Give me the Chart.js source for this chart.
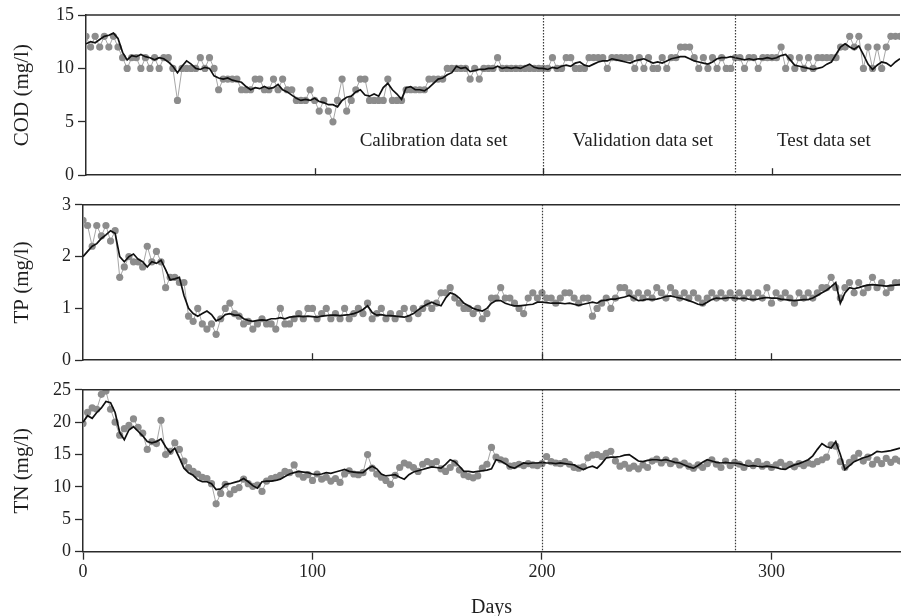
<!DOCTYPE html>
<html lang="en">
<head>
    <meta charset="UTF-8">
    <title>COD, TP and TN - measured and simulated</title>
    <script src="https://cdn.jsdelivr.net/npm/chart.js"></script>
    <style>
        html, body { margin: 0; padding: 0; background: #fff; }
        body { width: 904px; height: 616px; position: relative; overflow: hidden; }
        canvas { position: absolute; left: 0; display: block; }
        #cod-chart { top: 0; }
        #tp-chart { top: 190px; }
        #tn-chart { top: 375px; }
    </style>
</head>
<body>
    <canvas id="cod-chart" width="904" height="190"></canvas>
    <canvas id="tp-chart" width="904" height="185"></canvas>
    <canvas id="tn-chart" width="904" height="241"></canvas>

    <script>
        // sampling every 2 days, day 0 .. 356
        const STEP = 2;

        const codObs = [
            13, 12, 13, 12, 13, 12, 13, 12, 11, 10,
            11, 11, 10, 11, 10, 11, 10, 11, 11, 10,
            7, 10, 10, 10, 10, 11, 10, 11, 10, 8,
            9, 9, 9, 9, 8, 8, 8, 9, 9, 8,
            8, 9, 8, 9, 8, 8, 7, 7, 7, 8,
            7, 6, 7, 6, 5, 7, 9, 6, 7, 8,
            9, 9, 7, 7, 7, 7, 9, 7, 7, 7,
            8, 8, 8, 8, 8, 9, 9, 9, 9, 10,
            10, 10, 10, 10, 9, 10, 9, 10, 10, 10,
            11, 10, 10, 10, 10, 10, 10, 10, 10, 10,
            10, 10, 11, 10, 10, 11, 11, 10, 10, 10,
            11, 11, 11, 11, 10, 11, 11, 11, 11, 11,
            10, 11, 10, 11, 10, 10, 11, 10, 11, 11,
            12, 12, 12, 11, 10, 11, 10, 11, 10, 11,
            10, 10, 11, 11, 10, 11, 11, 10, 11, 11,
            11, 11, 12, 10, 11, 10, 11, 10, 11, 10,
            11, 11, 11, 11, 11, 12, 12, 13, 12, 13,
            10, 12, 10, 12, 10, 12, 13, 13, 13
        ];
        const codSim = [
            12.3, 12.5, 12.4, 12.7, 13.0, 13.1, 13.3, 12.8, 11.5, 10.8,
            11.2, 11.1, 11.3, 11.1, 11.0, 10.8, 11.0, 10.9, 10.6, 10.2,
            9.6, 10.2, 10.7, 10.4, 10.0, 9.9, 10.1, 10.0, 9.3, 9.1,
            9.0, 9.1, 8.9, 8.8, 8.7, 8.3, 8.0, 8.2, 8.1, 8.3,
            8.1, 8.2, 8.5, 8.0, 7.8, 7.5, 7.2, 7.0, 7.1, 7.0,
            7.2, 6.9, 6.8, 6.6, 6.6, 6.4, 7.0, 7.3, 7.4, 7.8,
            8.0, 7.5, 7.4, 7.6, 7.4, 8.2, 8.6, 8.0, 7.6, 7.1,
            8.2, 8.3, 8.0, 8.0, 7.9, 8.2, 8.6, 9.0, 9.1, 9.4,
            9.6, 10.2, 10.0, 10.1, 9.7, 9.8, 9.9, 9.9, 10.0, 10.0,
            10.2, 10.0, 10.1, 10.0, 10.1, 10.0, 10.2, 10.4, 10.1, 10.0,
            10.0, 9.9, 10.1, 10.0, 10.2, 10.3, 10.2, 10.5, 10.6, 10.3,
            10.2, 10.4, 10.6, 10.7, 10.7, 10.9, 10.8, 10.7, 10.6, 10.5,
            10.7, 10.8, 10.9, 10.7, 10.5, 10.6, 10.5, 10.7, 10.9, 11.0,
            11.1, 11.1, 10.9, 10.7, 10.6, 10.5, 10.4, 10.6, 10.9, 11.0,
            11.0, 11.1, 11.0, 10.9, 10.8, 10.9, 10.8, 10.9, 10.9, 11.0,
            10.9, 11.0, 11.2, 11.3, 10.8, 10.3, 10.2, 10.1, 10.0, 9.9,
            10.0, 10.1, 10.4, 10.6, 11.3, 12.0, 12.3, 12.0, 11.8, 12.1,
            11.3, 10.4, 9.9, 10.3, 10.6, 10.5, 10.2, 10.6, 10.9
        ];

        const tpObs = [
            2.7, 2.6, 2.2, 2.6, 2.4, 2.6, 2.3, 2.5, 1.6, 1.8,
            2.0, 1.9, 1.9, 1.8, 2.2, 1.9, 2.1, 1.9, 1.4, 1.6,
            1.6, 1.5, 1.5, 0.85, 0.75, 1.0, 0.7, 0.6, 0.7, 0.5,
            0.8, 1.0, 1.1, 0.9, 0.85, 0.7, 0.75, 0.6, 0.7, 0.8,
            0.7, 0.7, 0.6, 1.0, 0.7, 0.7, 0.8, 0.9, 0.8, 1.0,
            1.0, 0.8, 0.9, 1.0, 0.8, 0.9, 0.8, 1.0, 0.8, 0.9,
            1.0, 0.9, 1.1, 0.8, 0.9, 1.0, 0.8, 0.9, 0.8, 0.9,
            1.0, 0.8, 1.0, 0.9, 1.0, 1.1, 1.0, 1.1, 1.3, 1.3,
            1.4, 1.2, 1.1, 1.0, 1.0, 0.9, 1.0, 0.8, 0.9, 1.2,
            1.2, 1.4, 1.2, 1.2, 1.1, 1.0, 0.9, 1.2, 1.3, 1.2,
            1.3, 1.2, 1.2, 1.1, 1.2, 1.3, 1.3, 1.2, 1.1, 1.2,
            1.2, 0.85, 1.0, 1.1, 1.2, 1.0, 1.2, 1.4, 1.4, 1.3,
            1.2, 1.3, 1.2, 1.3, 1.2, 1.4, 1.3, 1.2, 1.4, 1.3,
            1.2, 1.3, 1.2, 1.3, 1.2, 1.1, 1.2, 1.3, 1.2, 1.3,
            1.2, 1.3, 1.2, 1.3, 1.2, 1.3, 1.2, 1.3, 1.2, 1.4,
            1.1, 1.3, 1.2, 1.3, 1.2, 1.1, 1.3, 1.2, 1.3, 1.2,
            1.3, 1.4, 1.4, 1.6, 1.4, 1.2, 1.4, 1.5, 1.3, 1.5,
            1.3, 1.4, 1.6, 1.4, 1.5, 1.3, 1.4, 1.5, 1.5
        ];
        const tpSim = [
            2.0, 2.1, 2.2, 2.25, 2.35, 2.42, 2.5, 2.45, 2.0, 1.9,
            2.0, 2.05, 1.95, 1.9, 1.8, 1.9, 1.87, 1.93, 1.75, 1.55,
            1.57, 1.6, 1.25, 1.0, 0.9, 0.85, 0.9, 0.95, 0.88, 0.76,
            0.8, 0.88, 0.9, 0.87, 0.87, 0.8, 0.77, 0.75, 0.77, 0.78,
            0.77, 0.8, 0.8, 0.82, 0.8, 0.83, 0.84, 0.85, 0.84, 0.85,
            0.84, 0.83, 0.85, 0.86, 0.87, 0.87, 0.86, 0.87, 0.88, 0.9,
            0.93, 0.98, 1.05, 0.92, 0.87, 0.88, 0.86, 0.86, 0.85, 0.84,
            0.83, 0.86, 0.9, 0.97, 1.03, 1.08, 1.12, 1.08, 1.05, 1.2,
            1.3, 1.27, 1.2, 1.1, 1.05, 1.0, 0.97, 0.95, 1.0, 1.1,
            1.15, 1.15, 1.1, 1.07, 1.05, 1.05, 1.06, 1.07, 1.08, 1.12,
            1.12, 1.11, 1.1, 1.1, 1.1, 1.09, 1.1, 1.08, 1.06, 1.08,
            1.1, 1.12, 1.1, 1.15, 1.16, 1.18, 1.18, 1.2, 1.22, 1.25,
            1.2, 1.15, 1.16, 1.18, 1.17, 1.18, 1.2, 1.23, 1.24, 1.22,
            1.2, 1.18, 1.15, 1.12, 1.08, 1.07, 1.12, 1.17, 1.2, 1.19,
            1.2, 1.21, 1.2, 1.19, 1.2, 1.18, 1.17, 1.18, 1.2, 1.21,
            1.2, 1.2, 1.18, 1.17, 1.16, 1.15, 1.16, 1.17, 1.17, 1.2,
            1.25, 1.3, 1.35, 1.42, 1.5, 1.1, 1.3, 1.4, 1.38, 1.4,
            1.43, 1.45, 1.46, 1.45, 1.44, 1.43, 1.44, 1.45, 1.46
        ];

        const tnObs = [
            19.8, 21.5, 22.2, 22.0, 24.3, 24.8, 22.0, 20.0, 18.0, 19.0,
            19.5, 20.5, 19.2, 18.3, 15.8, 17.0, 16.7, 20.3, 15.0, 15.5,
            16.8, 15.8, 14.0, 13.0, 12.4, 12.0, 11.5, 11.3, 10.5, 7.4,
            9.0, 10.4, 8.9, 9.6, 9.9, 11.2, 10.5, 10.1, 10.3, 9.3,
            10.9, 11.3, 11.5, 11.8, 12.4, 12.2, 13.4, 12.0, 11.5, 11.9,
            11.0, 12.0, 11.2, 11.5, 10.9, 11.3, 10.7, 12.0, 12.5, 12.0,
            11.9, 12.2, 15.0, 12.9, 12.0, 11.5, 11.0, 10.4, 11.8, 13.0,
            13.7, 13.4, 13.0, 12.4, 13.5, 13.9, 13.6, 13.9, 12.8, 12.4,
            13.0, 13.7, 12.6, 11.9, 11.6, 11.4, 11.7, 12.9, 13.5, 16.1,
            14.6, 14.2, 14.0, 13.2, 13.3, 13.5, 13.3, 13.6, 13.4, 13.3,
            13.6, 14.7, 13.9, 13.7, 13.6, 13.9, 13.5, 13.0, 12.9, 13.1,
            14.5, 14.9, 15.0, 14.7, 15.2, 15.5, 14.0, 13.2, 13.5, 12.9,
            13.2, 12.8, 13.4, 13.0, 14.0, 14.3, 13.7, 14.2, 13.6, 14.0,
            13.4, 13.7, 13.2, 12.9, 13.4, 13.0, 13.6, 14.2, 13.5, 13.0,
            14.0, 13.3, 13.8, 13.5, 13.0, 13.7, 13.3, 13.9, 13.2, 13.5,
            13.0, 13.4, 13.8, 13.2, 13.5, 13.1, 13.6, 13.3, 13.7, 13.5,
            13.9, 14.2, 14.6, 16.5, 16.3, 13.9, 13.0, 13.8, 14.5, 15.2,
            14.0, 14.6, 13.5, 14.2, 13.6, 14.4, 13.8, 14.3, 14.0
        ];
        const tnSim = [
            20.0, 21.0, 20.6, 21.5, 22.2, 23.2, 23.0, 21.5, 18.4, 17.3,
            18.8, 19.3, 18.6, 17.9, 17.0, 16.8, 17.0, 17.4, 16.2, 15.3,
            16.0, 14.5, 12.9, 12.2, 11.8, 11.1, 10.8, 10.8, 10.5, 9.6,
            9.7, 10.4, 10.5, 10.7, 10.9, 11.3, 10.8, 10.2, 9.8, 10.8,
            10.9, 10.9, 11.0, 11.2, 11.6, 12.0, 12.2, 12.4, 12.3, 12.2,
            12.0, 11.9, 12.0, 12.2, 12.1, 12.3, 12.5, 12.7, 12.4, 12.3,
            12.2, 12.2, 12.8, 13.2, 12.8, 12.0, 11.7, 11.8, 11.9, 11.5,
            11.2, 11.9, 12.3, 12.5, 12.7, 12.9, 13.1, 13.0, 12.9, 13.5,
            14.2, 13.9, 13.2, 12.4, 12.4, 12.3, 12.4, 12.5, 12.6, 12.8,
            14.2, 14.0, 13.6, 13.1, 12.9, 13.3, 13.7, 13.6, 13.7, 13.7,
            13.8, 13.7, 13.7, 13.6, 13.7, 13.6, 13.5, 13.4, 13.0, 12.7,
            13.0, 13.2, 12.9, 13.6, 14.5, 14.6, 14.6, 14.7, 14.9, 15.0,
            14.5, 14.0, 13.9, 14.1, 14.2, 14.2, 14.1, 14.2, 14.0, 13.8,
            13.7, 13.4, 13.1, 12.9, 13.3, 13.8, 14.2, 14.0, 13.8, 13.7,
            13.8, 13.7, 13.7, 13.6, 13.4, 13.2, 13.3, 13.2, 13.1, 13.2,
            13.1, 13.0, 12.8, 12.7, 13.1, 13.4, 13.6, 13.9, 14.2, 14.8,
            15.8, 16.7, 16.2, 16.0, 17.0, 15.0, 12.7, 13.3, 13.9, 14.2,
            14.5, 14.7, 15.0, 15.5, 15.4, 15.5, 15.6, 15.8, 16.0
        ];

        // ends of calibration / validation periods
        const splitDays = [200, 284];
        const periodLabels = [
            { text: 'Calibration data set', day: 152 },
            { text: 'Validation data set', day: 243.5 },
            { text: 'Test data set', day: 322.7 }
        ];
        const dayTicks = [100, 200, 300];

        const FONT = '"Liberation Serif", "Times New Roman", serif';
        const AXIS = '#2b2b2b';
        const OBS_GRAY = '#8c8c8c';

        const days = codObs.map((_, i) => i * STEP);
        const toPoints = vals => vals.map((v, i) => ({ x: days[i], y: v }));

        const panelDecor = {
            id: 'panelDecor',
            afterDatasetsDraw(chart, args, opts) {
                const { ctx, chartArea: a, scales: { x, y } } = chart;
                ctx.save();
                ctx.strokeStyle = AXIS;
                ctx.lineWidth = 1.5;
                ctx.beginPath();
                ctx.moveTo(a.left, a.top);
                ctx.lineTo(a.right, a.top);
                ctx.stroke();

                // period boundaries
                ctx.lineWidth = 1.2;
                ctx.strokeStyle = '#3a3a3a';
                ctx.setLineDash([1.5, 1.5]);
                splitDays.forEach(d => {
                    const px = Math.round(x.getPixelForValue(d)) + 0.5;
                    ctx.beginPath();
                    ctx.moveTo(px, a.top);
                    ctx.lineTo(px, a.bottom);
                    ctx.stroke();
                });
                ctx.setLineDash([]);

                // small ticks pointing into the plot
                if (opts.innerTicks) {
                    ctx.lineWidth = 1.3;
                    ctx.strokeStyle = AXIS;
                    dayTicks.forEach(d => {
                        const px = Math.round(x.getPixelForValue(d)) + 0.5;
                        ctx.beginPath();
                        ctx.moveTo(px, a.bottom);
                        ctx.lineTo(px, a.bottom - 7);
                        ctx.stroke();
                    });
                }

                if (opts.labelLevel !== undefined) {
                    ctx.fillStyle = '#1e1e1e';
                    ctx.font = '19px ' + FONT;
                    ctx.textAlign = 'center';
                    ctx.textBaseline = 'middle';
                    periodLabels.forEach(l => {
                        ctx.fillText(l.text, x.getPixelForValue(l.day), y.getPixelForValue(opts.labelLevel));
                    });
                }
                ctx.restore();
            }
        };

        function makePanel(id, cfg) {
            const ctx = document.getElementById(id).getContext('2d');
            return new Chart(ctx, {
                type: 'line',
                data: {
                    datasets: [
                        {
                            label: 'Simulated',
                            data: toPoints(cfg.sim),
                            borderColor: '#101010',
                            borderWidth: 1.7,
                            pointRadius: 0,
                            tension: 0,
                            order: 0
                        },
                        {
                            label: 'Measured',
                            data: toPoints(cfg.obs),
                            borderColor: '#a6a6a6',
                            borderWidth: 1,
                            pointRadius: 3.6,
                            pointBackgroundColor: OBS_GRAY,
                            pointBorderWidth: 0,
                            tension: 0,
                            order: 1
                        }
                    ]
                },
                options: {
                    responsive: false,
                    animation: false,
                    events: [],
                    layout: { padding: { top: cfg.padTop, bottom: cfg.padBottom, left: 0, right: 0 } },
                    plugins: {
                        legend: { display: false },
                        tooltip: { enabled: false },
                        panelDecor: { innerTicks: !cfg.showDays, labelLevel: cfg.labelLevel }
                    },
                    scales: {
                        x: {
                            type: 'linear',
                            min: 0,
                            max: 356,
                            afterFit: s => { s.height = cfg.xHeight; },
                            border: { color: AXIS, width: 1.5 },
                            grid: {
                                drawOnChartArea: false,
                                drawTicks: cfg.showDays,
                                tickLength: 8,
                                tickWidth: 1.3,
                                tickColor: AXIS
                            },
                            ticks: {
                                display: cfg.showDays,
                                stepSize: 100,
                                includeBounds: false,
                                maxRotation: 0,
                                padding: 1.5,
                                color: '#222',
                                font: { family: FONT, size: 18 }
                            },
                            title: {
                                display: cfg.showDays,
                                text: 'Days',
                                color: '#1e1e1e',
                                padding: { top: 0, bottom: 0 },
                                font: { family: FONT, size: 20, lineHeight: 0.8 }
                            }
                        },
                        y: {
                            min: 0,
                            max: cfg.yMax,
                            afterFit: s => { s.width = cfg.axisLeft; },
                            border: { color: AXIS, width: 1.5 },
                            grid: {
                                drawOnChartArea: false,
                                tickLength: 8,
                                tickWidth: 1.3,
                                tickColor: AXIS
                            },
                            ticks: {
                                stepSize: cfg.yStep,
                                padding: 4,
                                color: '#222',
                                font: { family: FONT, size: 18 }
                            },
                            title: {
                                display: true,
                                text: cfg.yTitle,
                                color: '#1e1e1e',
                                padding: { top: 10, bottom: 0 },
                                font: { family: FONT, size: 21 }
                            }
                        }
                    }
                },
                plugins: [panelDecor]
            });
        }

        makePanel('cod-chart', {
            obs: codObs, sim: codSim, yMax: 15, yStep: 5, yTitle: 'COD (mg/l)',
            axisLeft: 86, padTop: 15, padBottom: 12.5, xHeight: 0, showDays: false, labelLevel: 3.2
        });
        makePanel('tp-chart', {
            obs: tpObs, sim: tpSim, yMax: 3, yStep: 1, yTitle: 'TP (mg/l)',
            axisLeft: 83, padTop: 10, padBottom: 11.7, xHeight: 0, showDays: false
        });
        makePanel('tn-chart', {
            obs: tnObs, sim: tnSim, yMax: 25, yStep: 5, yTitle: 'TN (mg/l)',
            axisLeft: 83, padTop: 12.3, padBottom: 0, xHeight: 64.3, showDays: true
        });
    </script>
</body>
</html>
